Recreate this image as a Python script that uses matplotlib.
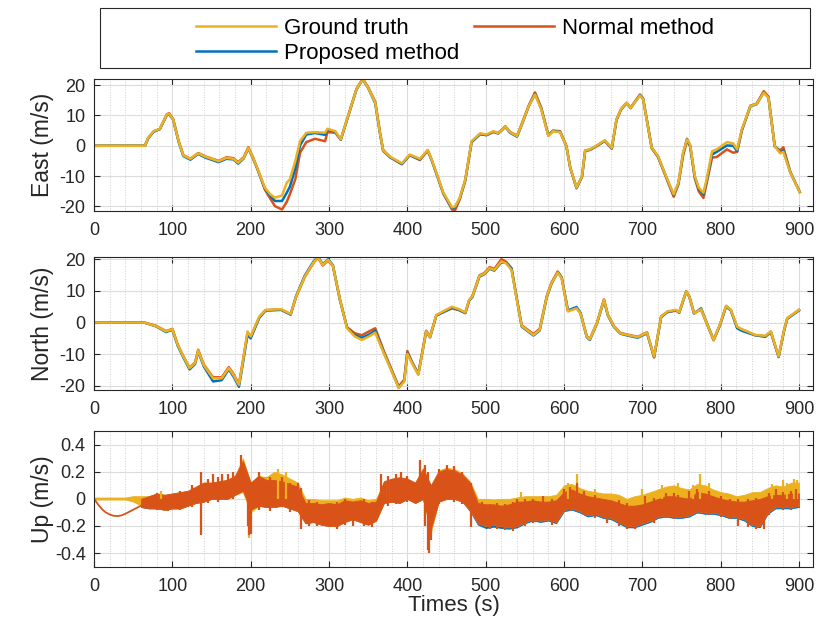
import numpy as np
import matplotlib
matplotlib.use("Agg")
import matplotlib.pyplot as plt
from matplotlib.ticker import MultipleLocator, FuncFormatter
from matplotlib.patches import Rectangle
from matplotlib.lines import Line2D

plt.rcParams['font.family'] = ['Liberation Sans', 'DejaVu Sans']
plt.rcParams['axes.unicode_minus'] = False

C_GT = '#EDB120'
C_NORM = '#D95319'
C_PROP = '#0072BD'
AX_COL = '#262626'

labels = ['Ground truth', 'Normal method', 'Proposed method']
panel_ylabels = ['East (m/s)', 'North (m/s)', 'Up (m/s)']
xlabel = 'Times (s)'
xticks = [0, 100, 200, 300, 400, 500, 600, 700, 800, 900]

# ---------------- East ----------------
t_east = [0, 65, 69, 76, 84, 93, 96, 101, 108, 114,
          123, 133, 142, 159, 169, 178, 184, 191, 197, 203,
          210, 218, 225, 231, 240, 246, 250, 257, 263, 271,
          282, 295, 298, 308, 315, 323, 335, 343, 350, 359,
          365, 369, 378, 393, 403, 416, 426, 431, 446, 457,
          461, 467, 474, 482, 493, 501, 510, 516, 525, 531,
          540, 546, 555, 563, 571, 580, 586, 595, 603, 608,
          616, 623, 627, 633, 642, 652, 661, 667, 673, 680,
          685, 697, 701, 712, 720, 731, 740, 746, 752, 757,
          761, 767, 772, 778, 782, 789, 795, 808, 816, 821,
          827, 838, 846, 855, 861, 869, 876, 880, 889, 901]
east_gt = [0, 0, 2.6, 4.8, 5.6, 10.3, 10.5, 8.7, 1.5, -3.2,
           -4.3, -2.5, -3.6, -5.1, -4.0, -4.3, -5.6, -4.0, -0.7, -4.0,
           -8.4, -13.8, -16.0, -17.1, -16.4, -12.2, -11.1, -5.0, 1.5, 4.3,
           4.5, 4.3, 5.6, 4.8, 2.1, 8.7, 18.6, 22.0, 19.1, 14.2,
           4.3, -1.5, -3.6, -5.8, -2.9, -4.3, -1.4, -4.5, -15.5, -20.3,
           -20.0, -17.1, -11.1, 1.5, 4.1, 3.7, 4.8, 4.1, 6.3, 4.5,
           3.2, 7.0, 13.1, 16.9, 12.0, 3.2, 4.8, 4.5, -0.1, -7.3,
           -13.8, -10.0, -1.5, -1.2, 0.1, 1.8, -0.7, 8.7, 12.2, 14.2,
           12.5, 16.6, 15.3, -0.7, -3.4, -10.5, -16.0, -12.2, -2.3, 2.1,
           0.4, -10.0, -13.8, -15.5, -11.1, -1.8, -1.2, 1.2, 0.8, -1.2,
           5.4, 13.1, 13.8, 17.5, 15.8, -0.1, -2.5, -2.0, -8.9, -15.3]
east_prop = [0, 0, 2.4, 4.6, 5.5, 10.1, 10.3, 8.6, 1.3, -3.4,
             -4.6, -2.7, -3.9, -5.4, -4.3, -4.5, -5.9, -4.2, -0.9, -4.2,
             -8.6, -14.0, -16.5, -18.2, -18.2, -15.5, -13.5, -7.5, 0.1, 3.7,
             4.2, 3.6, 5.3, 4.6, 2.0, 8.6, 18.5, 21.9, 19.0, 14.0,
             4.1, -1.7, -3.8, -6.0, -3.1, -4.5, -1.6, -4.7, -15.7, -20.6,
             -20.3, -17.3, -11.3, 1.3, 3.9, 3.5, 4.6, 4.0, 6.2, 4.3,
             3.0, 6.8, 13.0, 17.1, 12.2, 3.4, 4.9, 4.6, -0.2, -7.4,
             -14.0, -10.2, -1.6, -1.3, 0.0, 1.7, -0.8, 8.6, 12.1, 14.1,
             12.4, 16.7, 15.4, -0.6, -3.5, -10.6, -16.3, -12.4, -2.6, 2.3,
             0.1, -10.3, -14.2, -16.0, -11.8, -2.9, -2.0, 0.1, 0.0, -1.8,
             5.1, 13.0, 13.7, 17.6, 15.9, 0.0, -2.3, -1.5, -8.8, -15.2]
east_norm = [0, 0, 2.5, 4.7, 5.5, 10.4, 10.7, 8.8, 1.6, -3.1,
             -4.3, -2.4, -3.5, -5.0, -3.8, -4.1, -5.4, -3.8, -0.5, -3.8,
             -8.6, -14.4, -17.4, -19.9, -21.0, -18.5, -16.0, -11.0, -2.3, 1.2,
             2.3, 1.5, 4.5, 4.3, 2.0, 8.6, 18.7, 22.1, 19.3, 14.5,
             4.6, -1.3, -3.8, -6.1, -3.1, -4.7, -1.5, -4.6, -15.8, -21.0,
             -21.2, -17.6, -11.4, 1.2, 3.8, 3.5, 4.6, 4.2, 6.4, 4.6,
             3.3, 7.2, 13.3, 17.6, 12.5, 3.5, 5.0, 4.8, 0.0, -7.2,
             -13.9, -10.1, -1.7, -1.4, -0.1, 1.6, -1.0, 8.5, 12.0, 14.1,
             12.6, 16.9, 15.6, -0.9, -3.7, -10.9, -16.8, -12.8, -3.3, 1.6,
             -0.2, -10.8, -15.0, -17.2, -12.5, -3.9, -3.7, -1.2, -2.3, -2.0,
             5.0, 13.2, 13.9, 18.0, 16.2, -0.3, -1.5, -0.5, -8.7, -15.3]

# ---------------- North ----------------
t_north = [0, 64, 79, 92, 100, 107, 114, 122, 129, 133,
           140, 152, 163, 172, 178, 185, 189, 196, 200, 211,
           219, 239, 251, 258, 269, 280, 286, 292, 299, 305,
           314, 323, 333, 342, 351, 359, 370, 381, 389, 396,
           400, 406, 414, 424, 429, 437, 457, 466, 474, 479,
           483, 492, 498, 505, 511, 520, 526, 533, 539, 546,
           561, 569, 578, 584, 592, 597, 605, 616, 621, 629,
           633, 642, 651, 656, 664, 672, 681, 694, 706, 715,
           724, 732, 743, 747, 756, 760, 766, 775, 784, 791,
           799, 807, 813, 821, 827, 834, 844, 857, 864, 874,
           881, 885, 900]
north_gt = [0, 0, -1.1, -2.8, -2.1, -7.1, -10.7, -14.4, -12.8, -8.8,
            -13.4, -17.6, -17.6, -14.4, -16.5, -19.7, -13.9, -2.8, -4.4, 1.9,
            4.0, 4.2, 2.7, 8.2, 14.5, 18.9, 20.6, 18.2, 19.8, 17.9,
            7.2, -1.8, -4.4, -5.5, -4.4, -3.2, -9.7, -16.0, -20.7, -18.6,
            -9.9, -12.8, -16.5, -2.8, -4.6, 2.4, 5.0, 4.2, 3.2, 7.2,
            8.2, 14.7, 15.4, 17.2, 16.6, 19.3, 18.7, 16.6, 8.2, -1.1,
            -3.9, -2.3, 8.2, 12.4, 15.8, 14.0, 3.5, 4.5, 2.9, -4.4,
            -5.3, -0.2, 7.2, 2.4, -1.3, -3.4, -3.9, -4.6, -3.2, -10.7,
            1.9, 3.5, 4.0, 3.2, 9.8, 8.2, 2.9, 4.2, -1.3, -5.5,
            -0.7, 5.3, 4.0, -1.3, -2.1, -2.8, -3.9, -4.2, -2.8, -10.7,
            -2.3, 1.4, 4.0]
north_prop = [0, 0, -1.2, -3.0, -2.3, -7.4, -11.0, -14.8, -13.1, -9.1,
              -13.8, -18.6, -18.2, -14.8, -17.0, -20.3, -14.5, -3.8, -5.0, 1.5,
              3.8, 4.0, 2.5, 8.4, 14.8, 19.2, 20.8, 18.4, 20.0, 18.1,
              7.0, -1.6, -4.0, -4.8, -3.8, -2.6, -9.5, -15.8, -20.6, -18.4,
              -9.7, -12.6, -16.3, -2.9, -4.7, 2.2, 4.7, 4.0, 3.0, 7.0,
              8.0, 14.5, 15.2, 17.0, 16.4, 19.0, 18.9, 17.0, 8.5, -1.3,
              -4.1, -2.5, 8.0, 12.2, 15.9, 14.2, 3.8, 4.9, 3.1, -4.6,
              -5.5, -0.4, 7.0, 2.2, -1.5, -3.5, -4.1, -4.8, -3.4, -10.9,
              1.7, 3.3, 3.9, 3.1, 9.7, 8.1, 2.8, 4.5, -1.2, -5.4,
              -0.9, 5.1, 3.8, -1.8, -2.6, -3.2, -4.0, -4.5, -3.0, -10.9,
              -2.5, 1.2, 3.8]
north_norm = [0, 0, -1.0, -2.7, -2.0, -7.0, -10.6, -14.3, -12.6, -8.6,
              -13.2, -17.3, -17.3, -14.1, -16.2, -19.5, -13.7, -3.2, -4.6, 1.7,
              3.9, 4.1, 2.6, 8.1, 14.4, 18.8, 20.5, 18.0, 19.6, 17.8,
              7.3, -1.5, -3.4, -4.0, -2.8, -1.8, -9.0, -15.5, -20.2, -18.0,
              -9.0, -12.4, -16.2, -2.6, -4.4, 2.3, 4.5, 3.9, 3.0, 7.1,
              8.3, 14.9, 15.6, 17.5, 16.9, 20.0, 19.2, 17.2, 8.6, -0.9,
              -3.6, -2.0, 8.4, 12.6, 16.1, 14.3, 3.7, 4.6, 3.0, -4.3,
              -5.2, -0.1, 7.3, 2.5, -1.2, -3.3, -3.8, -4.5, -3.1, -11.0,
              2.0, 3.3, 3.8, 3.1, 9.9, 8.3, 3.0, 4.1, -1.4, -5.6,
              -0.8, 5.2, 3.9, -1.5, -2.2, -2.9, -4.0, -4.3, -2.9, -10.8,
              -2.4, 1.3, 4.0]

# ---------------- Up (noisy bands read as envelopes) ----------------
t_up_gt = list(range(0, 901, 10))
up_gt_hi = [0.01, 0.01, 0.01, 0.01, 0.01, 0.02, 0.02, 0.02, 0.04, 0.03,
            0.04, 0.05, 0.06, 0.09, 0.12, 0.12, 0.13, 0.14, 0.17, 0.30,
            0.12, 0.17, 0.16, 0.20, 0.18, 0.15, 0.12, 0.00, 0.00, -0.01,
            -0.01, -0.01, 0.01, 0.00, 0.01, -0.01, 0.00, 0.12, 0.14, 0.15,
            0.14, 0.12, 0.23, 0.10, 0.21, 0.23, 0.22, 0.19, 0.13, 0.00,
            0.00, -0.005, 0.00, 0.00, 0.01, 0.02, 0.02, 0.02, 0.02, 0.03,
            0.10, 0.11, 0.08, 0.06, 0.05, 0.04, 0.04, 0.03, 0.00, 0.02,
            0.03, 0.05, 0.07, 0.09, 0.10, 0.08, 0.07, 0.11, 0.10, 0.07,
            0.05, 0.04, 0.02, 0.03, 0.05, 0.05, 0.08, 0.10, 0.09, 0.12,
            0.12]
up_gt_lo = [-0.005, -0.005, -0.005, -0.005, -0.005, -0.02, -0.05, -0.06, -0.07, -0.08,
            -0.07, -0.07, -0.05, -0.03, -0.02, 0.00, 0.00, 0.00, 0.03, 0.05,
            -0.10, -0.05, -0.06, -0.06, -0.05, -0.07, -0.09, -0.18, -0.17, -0.19,
            -0.20, -0.20, -0.17, -0.15, -0.17, -0.19, -0.16, -0.03, -0.02, -0.03,
            0.00, -0.03, 0.00, -0.25, -0.02, 0.00, 0.00, -0.02, -0.08, -0.18,
            -0.20, -0.19, -0.20, -0.21, -0.20, -0.17, -0.15, -0.16, -0.15, -0.17,
            -0.08, -0.07, -0.09, -0.12, -0.11, -0.13, -0.14, -0.17, -0.20, -0.20,
            -0.18, -0.16, -0.13, -0.12, -0.13, -0.13, -0.12, -0.09, -0.10, -0.10,
            -0.11, -0.13, -0.13, -0.15, -0.19, -0.20, -0.10, -0.06, -0.06, -0.06,
            -0.05]

t_up_band = list(range(60, 901, 10))
up_prop_hi = [0.00, 0.02, 0.03, 0.03, 0.03, 0.04, 0.05, 0.08, 0.11, 0.11,
              0.12, 0.13, 0.16, 0.26, 0.11, 0.16, 0.16, 0.17, 0.16, 0.13,
              0.10, -0.03, -0.03, -0.04, -0.03, -0.04, -0.01, -0.02, -0.01, -0.03,
              -0.02, 0.12, 0.14, 0.15, 0.14, 0.11, 0.20, 0.08, 0.19, 0.21,
              0.20, 0.17, 0.11, -0.03, -0.04, -0.04, -0.05, -0.04, -0.02, -0.02,
              -0.01, -0.02, -0.02, -0.01, 0.05, 0.06, 0.04, 0.02, 0.01, 0.00,
              -0.01, -0.03, -0.05, -0.05, -0.04, -0.02, 0.00, 0.02, 0.02, 0.01,
              0.00, 0.05, 0.04, 0.02, 0.00, -0.01, -0.02, -0.02, -0.01, 0.00,
              0.02, 0.03, 0.03, 0.04, 0.04]
up_prop_lo = [-0.06, -0.07, -0.07, -0.08, -0.07, -0.07, -0.05, -0.03, -0.02, 0.00,
              0.00, 0.00, 0.03, 0.06, -0.08, -0.05, -0.06, -0.06, -0.05, -0.07,
              -0.09, -0.18, -0.17, -0.19, -0.20, -0.20, -0.17, -0.15, -0.17, -0.19,
              -0.16, -0.03, -0.02, -0.03, 0.00, -0.03, 0.00, -0.22, -0.02, 0.00,
              0.00, -0.02, -0.09, -0.19, -0.215, -0.205, -0.215, -0.22, -0.21, -0.18,
              -0.16, -0.17, -0.16, -0.18, -0.09, -0.08, -0.10, -0.13, -0.12, -0.14,
              -0.15, -0.18, -0.21, -0.21, -0.19, -0.17, -0.14, -0.13, -0.14, -0.14,
              -0.13, -0.10, -0.11, -0.11, -0.12, -0.14, -0.14, -0.16, -0.20, -0.21,
              -0.11, -0.07, -0.07, -0.07, -0.06]

up_norm_hi = [0.00, 0.02, 0.04, 0.03, 0.04, 0.05, 0.06, 0.09, 0.12, 0.12,
              0.13, 0.14, 0.17, 0.28, 0.12, 0.17, 0.14, 0.14, 0.13, 0.11,
              0.09, -0.03, -0.03, -0.04, -0.03, -0.04, -0.01, -0.02, -0.01, -0.03,
              -0.02, 0.13, 0.15, 0.16, 0.15, 0.12, 0.22, 0.10, 0.20, 0.22,
              0.21, 0.18, 0.12, -0.03, -0.04, -0.04, -0.05, -0.04, -0.02, -0.02,
              -0.01, -0.02, -0.02, -0.01, 0.05, 0.07, 0.04, 0.02, 0.01, 0.00,
              -0.01, -0.03, -0.05, -0.05, -0.04, -0.02, 0.00, 0.02, 0.02, 0.01,
              0.00, 0.05, 0.04, 0.02, 0.00, -0.01, -0.02, -0.02, -0.01, 0.00,
              0.02, 0.03, 0.03, 0.04, 0.04]
up_norm_lo = [-0.06, -0.07, -0.07, -0.08, -0.07, -0.07, -0.05, -0.03, -0.02, 0.00,
              0.00, 0.00, 0.03, 0.06, -0.08, -0.05, -0.06, -0.06, -0.05, -0.07,
              -0.09, -0.18, -0.17, -0.19, -0.20, -0.20, -0.17, -0.15, -0.17, -0.19,
              -0.16, -0.03, -0.02, -0.03, 0.00, -0.03, 0.00, -0.22, -0.02, 0.00,
              0.00, -0.02, -0.08, -0.18, -0.20, -0.19, -0.20, -0.21, -0.20, -0.17,
              -0.15, -0.16, -0.15, -0.17, -0.08, -0.07, -0.09, -0.12, -0.11, -0.13,
              -0.14, -0.17, -0.20, -0.20, -0.18, -0.16, -0.13, -0.12, -0.13, -0.13,
              -0.12, -0.09, -0.10, -0.10, -0.11, -0.13, -0.13, -0.15, -0.19, -0.20,
              -0.10, -0.06, -0.06, -0.06, -0.05]

# smooth start of the normal method in Up
t_up_norm_init = [0, 5, 10, 15, 20, 25, 30, 35, 40, 45, 50, 55, 60, 65]
up_norm_init = [0.0, -0.04, -0.075, -0.10, -0.115, -0.125, -0.127, -0.122, -0.11, -0.095,
                -0.08, -0.065, -0.05, -0.035]

# individual spikes of the normal method (time, low, high)
spk_norm_t = [81, 95, 110, 125, 137, 145, 152, 158, 164, 171,
              178, 188, 196, 198, 200, 210, 225, 240, 250, 260,
              264, 275, 285, 300, 310, 320, 330, 345, 355, 366,
              375, 385, 392, 400, 416, 423, 426, 428, 430, 440,
              450, 460, 470, 481, 495, 505, 515, 525, 535, 540,
              550, 560, 573, 585, 600, 608, 616, 625, 640, 655,
              670, 680, 690, 703, 715, 730, 740, 745, 760, 770,
              785, 800, 812, 822, 835, 845, 855, 862, 870, 880,
              890, 896]
spk_norm_lo = [-0.08, -0.09, -0.08, -0.06, -0.27, -0.03, 0.0, -0.02, 0.0, 0.0,
               0.0, 0.08, -0.20, -0.27, -0.26, -0.08, -0.09, -0.06, -0.10, -0.05,
               -0.225, -0.20, -0.20, -0.21, -0.22, -0.19, -0.20, -0.20, -0.21, -0.04,
               -0.05, -0.04, 0.0, -0.02, 0.0, -0.20, -0.38, -0.40, -0.30, -0.04,
               0.0, -0.02, -0.04, -0.21, -0.20, -0.22, -0.22, -0.23, -0.24, -0.15,
               -0.20, -0.18, -0.12, -0.19, -0.10, -0.09, -0.06, -0.12, -0.14, -0.18,
               -0.20, -0.22, -0.22, -0.15, -0.18, -0.14, -0.15, -0.14, -0.08, -0.11,
               -0.12, -0.13, -0.15, -0.20, -0.21, -0.22, -0.22, -0.12, -0.04, -0.08,
               -0.08, -0.03]
spk_norm_hi = [0.045, 0.03, 0.06, 0.10, 0.20, 0.15, 0.18, 0.16, 0.18, 0.18,
               0.20, 0.32, 0.10, 0.05, 0.12, 0.20, 0.16, 0.16, 0.12, 0.12,
               0.08, -0.01, -0.02, -0.05, -0.02, 0.00, -0.03, 0.00, -0.02, 0.18,
               0.17, 0.18, 0.20, 0.17, 0.29, 0.25, 0.20, 0.10, 0.00, 0.22,
               0.25, 0.24, 0.20, 0.12, -0.02, -0.04, -0.03, -0.04, -0.02, 0.00,
               0.00, 0.00, 0.02, 0.00, 0.07, 0.09, 0.12, 0.06, 0.03, -0.02,
               -0.01, -0.03, -0.06, 0.02, 0.01, 0.04, 0.04, 0.03, 0.06, 0.07,
               0.06, 0.02, 0.00, 0.00, 0.00, 0.01, 0.00, 0.04, 0.07, 0.05,
               0.06, 0.07]
spk_gt_t = [85, 198, 235, 245, 375, 545, 605, 616, 640,
            700, 725, 745, 765, 774, 785, 865, 880, 885, 893, 898]
spk_gt_lo = [0.0, -0.29, 0.0, 0.0, 0.0, 0.0, 0.0, 0.0, 0.0,
             0.0, 0.0, 0.0, 0.0, 0.0, 0.0, 0.0, 0.0, 0.0, 0.0, 0.0]
spk_gt_hi = [0.06, 0.0, 0.22, 0.20, 0.14, 0.05, 0.12, 0.18, 0.07,
             0.07, 0.10, 0.12, 0.10, 0.18, 0.12, 0.11, 0.14, 0.12, 0.15, 0.14]

# ---------------- figure ----------------
fig = plt.figure(figsize=(8.19, 6.25), dpi=100)
ax_rects = [
    [0.1148, 0.6624, 0.878, 0.2112],
    [0.1148, 0.3760, 0.878, 0.2123],
    [0.1148, 0.0933, 0.878, 0.2170],
]
axes = [fig.add_axes(r) for r in ax_rects]
LW = 1.8

ax = axes[0]
ax.plot(t_east, east_norm, color=C_NORM, lw=LW)
ax.plot(t_east, east_prop, color=C_PROP, lw=LW)
ax.plot(t_east, east_gt, color=C_GT, lw=LW)
ax.set_ylim(-21.5, 22)
ax.set_yticks([-20, -10, 0, 10, 20])

ax = axes[1]
ax.plot(t_north, north_norm, color=C_NORM, lw=LW)
ax.plot(t_north, north_prop, color=C_PROP, lw=LW)
ax.plot(t_north, north_gt, color=C_GT, lw=LW)
ax.set_ylim(-21.3, 20.6)
ax.set_yticks([-20, -10, 0, 10, 20])

ax = axes[2]
ax.fill_between(t_up_band, up_prop_lo, up_prop_hi, color=C_PROP, lw=0.6, edgecolor=C_PROP)
ax.fill_between(t_up_gt, up_gt_lo, up_gt_hi, color=C_GT, lw=0.6, edgecolor=C_GT)
ax.vlines(spk_gt_t, spk_gt_lo, spk_gt_hi, color=C_GT, lw=1.6)
ax.plot(t_up_norm_init, up_norm_init, color=C_NORM, lw=1.3)
ax.fill_between(t_up_band, up_norm_lo, up_norm_hi, color=C_NORM, lw=0.6, edgecolor=C_NORM)
ax.vlines(spk_norm_t, spk_norm_lo, spk_norm_hi, color=C_NORM, lw=1.6)
ax.set_ylim(-0.5, 0.5)
ax.set_yticks([-0.4, -0.2, 0, 0.2, 0.4])
ax.yaxis.set_major_formatter(FuncFormatter(lambda v, p: '%g' % round(v, 2)))
ax.set_xlabel(xlabel, fontsize=16, color=AX_COL, labelpad=0)

for ax, yl in zip(axes, panel_ylabels):
    ax.set_xlim(0, 918)
    ax.set_xticks(xticks)
    ax.xaxis.set_minor_locator(MultipleLocator(20))
    ax.grid(which='major', color='#dcdcdc', lw=0.8, ls='-')
    ax.grid(which='minor', axis='x', color='#d0d0d0', lw=0.7, ls=':')
    ax.set_axisbelow(True)
    ax.tick_params(which='major', direction='in', length=4, width=0.8, top=True, right=True,
                   labelsize=13, colors=AX_COL, pad=8)
    ax.tick_params(which='minor', length=0, top=True, right=True)
    for s in ax.spines.values():
        s.set_color(AX_COL)
        s.set_linewidth(0.8)
    ax.set_ylabel(yl, fontsize=16.5, color=AX_COL)
    ax.yaxis.set_label_coords(-0.056, 0.5)
    ax.tick_params(axis='y', pad=6)

# legend
fig.patches.append(Rectangle((100 / 819, 1 - 68 / 625), 710 / 819, 60 / 625,
                             transform=fig.transFigure, fill=False,
                             edgecolor=AX_COL, lw=0.8))
handles = [Line2D([], [], color=C_GT, lw=LW),
           Line2D([], [], color=C_PROP, lw=LW),
           Line2D([], [], color=C_NORM, lw=LW)]
fig.legend(handles, [labels[0], labels[2], labels[1]], ncol=2, frameon=False,
           loc='center', bbox_to_anchor=(455 / 819, 1 - 41 / 625),
           fontsize=16, handlelength=3.6, handletextpad=0.32,
           columnspacing=0.7, labelspacing=0.17, borderpad=0)

fig.savefig('out.png', dpi=100)
